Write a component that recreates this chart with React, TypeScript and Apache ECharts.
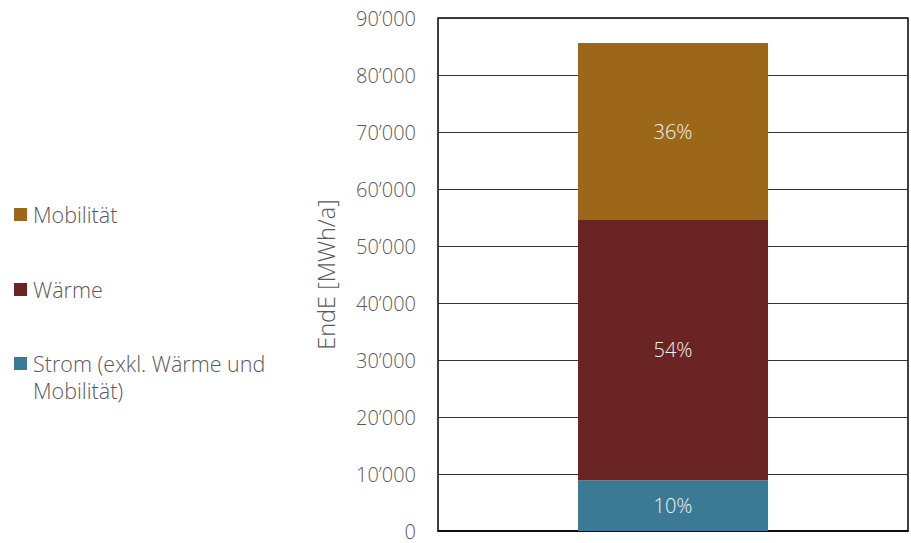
import React, { useEffect, useRef } from "react";
import * as echarts from "echarts";

const categories = ["Gemeinde"];
const seriesNames = ["Strom (exkl. Wärme und Mobilität)", "Wärme", "Mobilität"];
const legendLabels = ["Strom (exkl. Wärme und\nMobilität)", "Wärme", "Mobilität"];
const stromValues = [8900];
const waermeValues = [45800];
const mobilitaetValues = [30900];
const percentLabels = ["10%", "54%", "36%"];
const colors = ["#3B7A94", "#6A2423", "#9C6719"];
const yTicks = [0, 10000, 20000, 30000, 40000, 50000, 60000, 70000, 80000, 90000];

const FONT = "'Open Sans', 'Noto Sans', sans-serif";
const GRAY = "#595959";

export default function App() {
  const ref = useRef<HTMLDivElement>(null);
  useEffect(() => {
    if (!ref.current) return;
    const chart = echarts.init(ref.current, undefined, { renderer: "svg" });
    const allValues = [stromValues, waermeValues, mobilitaetValues];
    const legendY = [364, 290, 215];
    const graphic: any[] = [];
    seriesNames.forEach((_, i) => {
      graphic.push({
        type: "rect",
        left: 14,
        top: legendY[i] - 7,
        shape: { width: 13, height: 13 },
        style: { fill: colors[i] },
      });
      graphic.push({
        type: "text",
        left: 33,
        top: legendY[i] - 14,
        style: {
          text: legendLabels[i],
          fill: GRAY,
          fontSize: 21.5,
          fontWeight: 300,
          fontFamily: FONT,
          lineHeight: 27,
        },
      });
    });
    chart.setOption({
      animation: false,
      textStyle: { fontFamily: FONT },
      grid: {
        left: 438,
        right: 3,
        top: 18,
        bottom: 12,
        show: true,
        borderColor: "#000",
        borderWidth: 1.5,
        backgroundColor: "transparent",
      },
      xAxis: {
        type: "category",
        data: categories,
        axisLabel: { show: false },
        axisTick: { show: false },
        axisLine: { show: true, lineStyle: { color: "#000", width: 1.5 } },
      },
      yAxis: {
        type: "value",
        min: 0,
        max: 90000,
        interval: 10000,
        name: "EndE [MWh/a]",
        nameLocation: "middle",
        nameGap: 100,
        nameTextStyle: { color: GRAY, fontSize: 23.5, fontWeight: 300, fontFamily: FONT },
        axisLine: { show: false },
        axisTick: { show: false },
        axisLabel: {
          color: GRAY,
          fontSize: 20,
          fontWeight: 300,
          fontFamily: FONT,
          lineHeight: 18,
          margin: 22,
          formatter: (v: number) =>
            yTicks.includes(v) ? String(v).replace(/\B(?=(\d{3})+(?!\d))/g, "\u2019") : "",
        },
        splitLine: { show: true, lineStyle: { color: "#333", width: 1 } },
      },
      series: seriesNames.map((name, i) => ({
        name,
        type: "bar",
        stack: "total",
        data: allValues[i],
        barWidth: 190,
        itemStyle: { color: colors[i] },
        label: {
          show: true,
          position: "inside",
          formatter: () => percentLabels[i],
          color: "#F2F2F2",
          fontSize: 20,
          fontWeight: 300,
          fontFamily: FONT,
        },
      })),
      graphic,
    });
    return () => chart.dispose();
  }, []);
  return <div ref={ref} style={{ width: 911, height: 543, position: "absolute", left: 0, top: 0 }} />;
}
